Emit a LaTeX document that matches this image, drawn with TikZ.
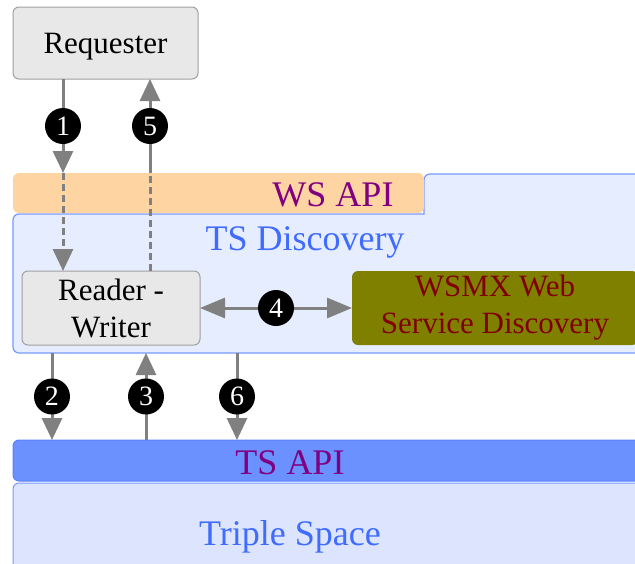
\documentclass[tikz,border=0pt]{standalone}
\usepackage{fontspec}
\setmainfont{Liberation Serif}
\newfontfamily\timesfont{Liberation Serif}
\usetikzlibrary{arrows.meta}
\definecolor{boxfill}{HTML}{E8E8E8}
\definecolor{boxline}{HTML}{A0A0A0}
\definecolor{wsfill}{HTML}{FFD4A3}
\definecolor{apitext}{HTML}{800080}
\definecolor{tsdfill}{HTML}{E5EDFF}
\definecolor{tsdline}{HTML}{7799FF}
\definecolor{tsdtext}{HTML}{3F6BFF}
\definecolor{wsmxfill}{HTML}{808000}
\definecolor{wsmxtext}{HTML}{800000}
\definecolor{tsapifill}{HTML}{6A91FF}
\definecolor{tsapiline}{HTML}{5A80FF}
\definecolor{triplefill}{HTML}{DCE5FD}
\definecolor{arrowgray}{HTML}{808080}
\tikzset{
  box/.style={rectangle, rounded corners=6pt, inner sep=0pt, outer sep=0pt, anchor=north west, line width=1pt, align=center},
  graybox/.style={box, fill=boxfill, draw=boxline, font=\timesfont\fontsize{31}{37}\selectfont},
  biglabel/.style={inner sep=0pt, font=\timesfont\fontsize{36}{40}\selectfont},
  num/.style={circle, fill=black, text=white, minimum size=36pt, inner sep=0pt, font=\timesfont\fontsize{28}{30}\selectfont},
  arr/.style={draw=arrowgray, line width=3pt, -{Triangle[length=22pt,width=20pt]}},
  arrtwo/.style={draw=arrowgray, line width=3pt, {Triangle[length=25pt,width=20pt]}-{Triangle[length=25pt,width=20pt]}},
  darr/.style={draw=arrowgray, line width=3pt, dash pattern=on 7pt off 4pt, -{Triangle[length=22pt,width=20pt]}},
  dline/.style={draw=arrowgray, line width=3pt, dash pattern=on 7pt off 4pt}
}
\begin{document}
\begin{tikzpicture}[x=1pt,y=-1pt]
\useasboundingbox (0,0) rectangle (635,563);
% TS Discovery outline with tab
\filldraw[fill=tsdfill, draw=tsdline, line width=1.2pt]
  (13,280) [rounded corners=6pt] -- (13,214) [sharp corners] -- (424,214)
  [rounded corners=6pt] -- (424,174) -- (650,174) -- (650,353) -- (13,353) -- cycle;
\node[box, minimum width=640pt, minimum height=139pt] (tsd) at (13,214) {};
\node[biglabel, text=tsdtext] (tsdlabel) at (305,242) {TS Discovery};
% WS API
\node[box, fill=wsfill, minimum width=411pt, minimum height=40pt] (wsapi) at (13,173) {};
\node[biglabel, text=apitext] (wslabel) at (333,195) {WS API};
% Requester
\node[graybox, text depth=0pt, minimum width=185pt, minimum height=72pt] (req) at (13,7) {Requester};
% Reader - Writer
\node[graybox, minimum width=178pt, minimum height=74pt] (rw) at (22,271) {Reader -\\Writer};
% WSMX
\node[box, fill=wsmxfill, text=wsmxtext, font=\timesfont\fontsize{31}{37}\selectfont, minimum width=286pt, minimum height=74pt] (wsmx) at (352,271) {WSMX Web\\Service Discovery};
% TS API
\node[box, fill=tsapifill, draw=tsapiline, minimum width=640pt, minimum height=41pt] (tsapi) at (13,440) {};
\node[biglabel, text=apitext] (tsapilabel) at (290,463) {TS API};
% Triple Space
\node[box, fill=triplefill, draw=tsdline, minimum width=640pt, minimum height=100pt] (triple) at (13,483) {};
\node[biglabel, text=tsdtext] (triplelabel) at (290,537) {Triple Space};
% x positions of connectors
\coordinate (c1) at (63,0);
\coordinate (c5) at (150,0);
\coordinate (c2) at (52,0);
\coordinate (c3) at (146,0);
\coordinate (c6) at (237,0);
% connectors
\draw[arr] (req.south -| c1) -- node[num]{1} (wsapi.north -| c1);
\draw[darr] (wsapi.north -| c1) -- (rw.north -| c1);
\draw[arr] (wsapi.north -| c5) -- node[num]{5} (req.south -| c5);
\draw[dline] (rw.north -| c5) -- (wsapi.north -| c5);
\draw[arrtwo] (rw.east) -- node[num]{4} (wsmx.west);
\draw[arr] (tsd.south -| c2) -- node[num]{2} (tsapi.north -| c2);
\draw[arr] (tsapi.north -| c3) -- node[num]{3} (tsd.south -| c3);
\draw[arr] (tsd.south -| c6) -- node[num]{6} (tsapi.north -| c6);
\end{tikzpicture}
\end{document}
